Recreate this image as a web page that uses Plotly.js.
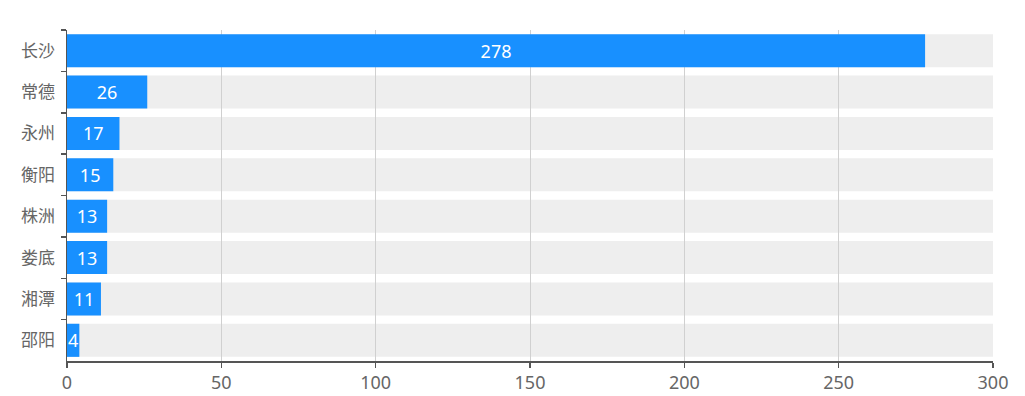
<!DOCTYPE html>
<html><head><meta charset="utf-8">
<script src="https://cdn.plot.ly/plotly-3.0.1.min.js"></script>
<style>html,body{margin:0;padding:0;background:#fff}#chart{width:1025px;height:396px}</style>
</head><body><div id="chart"></div>
<script>
const cities = ['长沙','常德','永州','衡阳','株洲','娄底','湘潭','邵阳'];
const counts = [278, 26, 17, 15, 13, 13, 11, 4];
const axisMax = 300;
const xTicks = [0, 50, 100, 150, 200, 250, 300];

const barWidth = 0.8;
const shapes = cities.map((c, i) => ({
  type: 'rect', layer: 'below', xref: 'x', yref: 'y',
  x0: 0, x1: axisMax, y0: i - barWidth/2, y1: i + barWidth/2,
  fillcolor: '#eeeeee', line: {width: 0}
}));

const trace = {
  type: 'bar', orientation: 'h',
  y: cities, x: counts,
  width: barWidth,
  marker: {color: '#1890ff', line: {width: 0}},
  text: counts.map(String),
  textposition: 'inside', insidetextanchor: 'middle',
  constraintext: 'none', cliponaxis: false,
  textfont: {color: '#ffffff', size: 18, family: '"Noto Sans", "Noto Sans CJK SC", sans-serif'},
  hoverinfo: 'none'
};

const layout = {
  width: 1025, height: 396,
  margin: {l: 67, r: 32, t: 30, b: 35},
  paper_bgcolor: '#ffffff', plot_bgcolor: '#ffffff',
  showlegend: false,
  font: {family: '"Noto Sans CJK SC", "Noto Sans", sans-serif', color: '#666666'},
  xaxis: {
    range: [0, axisMax], tickvals: xTicks, ticktext: xTicks.map(String),
    showgrid: true, gridcolor: '#d0d0d0', gridwidth: 1,
    showline: true, linecolor: '#555555', linewidth: 1.5,
    ticks: 'outside', ticklen: 5, tickcolor: '#555555', tickwidth: 1.5,
    tickfont: {size: 18, color: '#666666', family: '"Noto Sans", sans-serif'}, zeroline: false, fixedrange: true
  },
  yaxis: {
    type: 'category', autorange: 'reversed',
    categoryorder: 'array', categoryarray: cities,
    showgrid: false, zeroline: false,
    showline: true, linecolor: '#555555', linewidth: 1.5,
    ticks: 'outside', ticklen: 5, tickcolor: '#555555', tickwidth: 1.5,
    tickson: 'boundaries',
    tickfont: {size: 17, color: '#666666'}, ticklabelstandoff: 7, fixedrange: true
  },
  shapes: shapes
};

Plotly.newPlot('chart', [trace], layout, {displayModeBar: false, staticPlot: true});
</script></body></html>
